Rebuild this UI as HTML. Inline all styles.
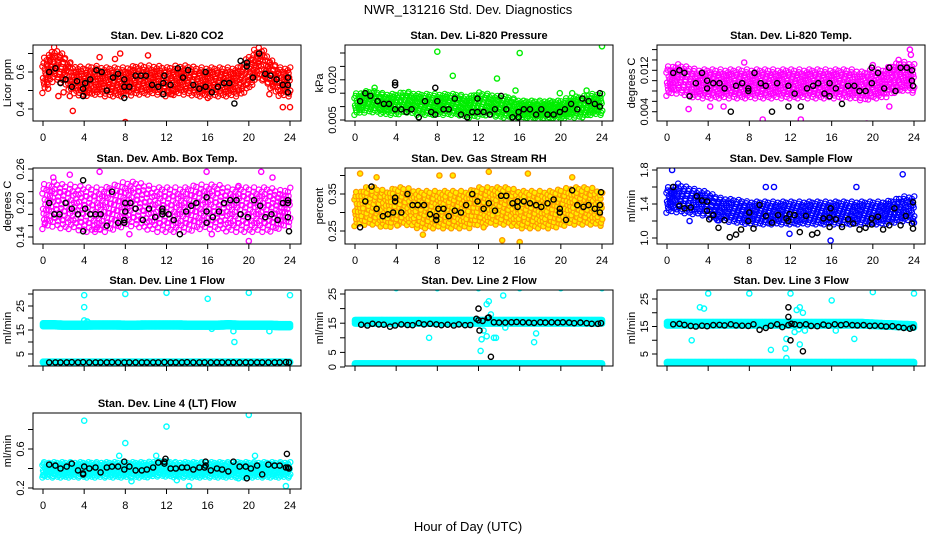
<!DOCTYPE html>
<html><head><meta charset="utf-8"><style>
html,body{margin:0;padding:0;background:#fff}
svg text{font-family:"Liberation Sans",sans-serif}
</style></head><body>
<svg id="chart" width="936" height="540" viewBox="0 0 936 540" xmlns="http://www.w3.org/2000/svg">
<text x="468" y="14" font-size="13" text-anchor="middle">NWR_131216  Std. Dev. Diagnostics</text>
<text x="468" y="531" font-size="13" text-anchor="middle">Hour of Day (UTC)</text>
</svg>
<script>
const xTicks=[0,4,8,12,16,20,24];
const HB=[0.6,1.2,1.7,2.3,2.8,3.4,3.9,4.5,5.1,5.6,6.2,6.7,7.3,7.9,8.4,9.0,9.6,10.1,10.7,11.2,11.8,12.4,12.9,13.5,14.0,14.6,15.2,15.7,16.3,16.9,17.4,18.0,18.5,19.1,19.7,20.2,20.8,21.3,21.9,22.5,23.0,23.6,23.9];

// Panel 1 CO2
const co2Mid=[0.58,0.65,0.62,0.56,0.55,0.56,0.55,0.55,0.55,0.56,0.56,0.56,0.55,0.56,0.56,0.55,0.55,0.55,0.55,0.55,0.6,0.66,0.6,0.55,0.55];
const co2Hw=[0.08,0.08,0.07,0.07,0.07,0.07,0.07,0.07,0.07,0.07,0.07,0.07,0.07,0.07,0.07,0.07,0.07,0.07,0.07,0.07,0.08,0.08,0.07,0.07,0.07];
const co2Black=[0.6,0.6,1.2,0.62,1.7,0.54,2.2,0.56,2.8,0.52,3.3,0.55,3.9,0.51,3.9,0.47,4.1,0.54,4.6,0.56,5.2,0.61,5.7,0.6,6.2,0.5,6.8,0.57,7.3,0.59,7.9,0.52,7.9,0.46,7.9,0.56,8.4,0.52,9,0.58,9.5,0.58,10,0.58,10.6,0.53,11.2,0.52,11.7,0.54,11.7,0.48,11.8,0.58,12.4,0.53,13.1,0.62,13.6,0.57,14.1,0.61,14.6,0.53,15.2,0.51,15.8,0.6,15.8,0.52,16.4,0.49,17,0.52,17.6,0.54,18.1,0.54,18.6,0.43,19.2,0.66,19.8,0.63,19.8,0.65,20.4,0.57,21,0.7,21.6,0.59,22.1,0.58,22.7,0.56,23.3,0.53,23.8,0.49,23.8,0.53,23.8,0.57];
const co2Out=[0.5,0.51,1.5,0.47,2,0.49,2.6,0.47,2.9,0.39,4.3,0.49,5.5,0.68,7.5,0.7,8,0.33,10.2,0.69,12.5,0.48,16,0.46,22,0.48,23.3,0.41,24,0.41,7,0.67];
// Panel 2 Pressure
const prMid=[0.011,0.012,0.012,0.011,0.011,0.012,0.011,0.011,0.011,0.011,0.011,0.010,0.011,0.011,0.010,0.010,0.009,0.009,0.009,0.009,0.009,0.010,0.010,0.011,0.011];
const prHw=[0.0035,0.0035,0.0035,0.0035,0.0035,0.0035,0.0035,0.0035,0.0035,0.0035,0.0035,0.0035,0.004,0.0035,0.0035,0.0035,0.003,0.003,0.003,0.003,0.003,0.0035,0.0035,0.0035,0.0035];
const prBlack=[0.5,0.012,1,0.015,1.5,0.014,2.2,0.012,2.8,0.011,3.3,0.011,3.9,0.009,3.9,0.018,3.9,0.019,4.5,0.009,5,0.008,5.5,0.009,6.2,0.006,6.8,0.012,7.4,0.008,7.8,0.007,7.8,0.017,8,0.012,8.6,0.009,9.1,0.009,9.7,0.013,10.3,0.007,10.9,0.006,11.4,0.008,11.9,0.008,11.9,0.013,12.5,0.008,13.1,0.007,13.6,0.009,14.2,0.014,14.7,0.009,15.3,0.006,15.9,0.006,15.9,0.008,16.4,0.009,17,0.009,17.6,0.007,18.1,0.009,18.7,0.007,19.3,0.007,19.9,0.008,20.4,0.009,21,0.011,21.6,0.009,22.1,0.013,22.7,0.012,23.3,0.011,23.8,0.010,23.8,0.015];
const prOut=[8,0.0305,9.5,0.0215,13.8,0.0205,16,0.030,24,0.0325,1.9,0.017,15.6,0.016,19.9,0.015,21.1,0.015,22.5,0.016,18.9,0.004,6.2,0.006];
// Panel 3 Temp
const tpMid=[0.010,0.0105,0.010,0.0095,0.0095,0.0095,0.0095,0.0095,0.0095,0.0095,0.0095,0.0095,0.0095,0.0095,0.0095,0.0095,0.0095,0.0095,0.0095,0.009,0.0095,0.0095,0.0105,0.011,0.0105];
const tpHw=[0.0025,0.0025,0.0025,0.0025,0.0025,0.0025,0.0025,0.0025,0.0025,0.0025,0.0025,0.0025,0.0025,0.0025,0.0025,0.0025,0.0025,0.0025,0.0025,0.0025,0.0025,0.0025,0.0025,0.0025,0.0025];
const tpBlack=[0.6,0.0115,1.2,0.012,1.7,0.0115,2.2,0.007,2.8,0.0095,3.4,0.0115,3.9,0.0085,3.9,0.01,4.5,0.0095,5.1,0.0095,5.6,0.0085,6.2,0.004,6.7,0.009,7.3,0.0095,7.9,0.008,7.9,0.0085,8.5,0.0115,9.1,0.0095,9.6,0.009,10.2,0.004,10.7,0.0095,11.8,0.009,11.8,0.005,12.4,0.0075,13,0.005,13.6,0.0085,14.2,0.009,14.7,0.0095,15.3,0.0075,15.8,0.0095,15.8,0.007,16.4,0.0085,17,0.0055,17.6,0.009,18.2,0.009,18.7,0.008,19.3,0.008,19.9,0.0095,19.9,0.0125,20.5,0.0115,21.1,0.0085,21.6,0.0125,22.2,0.008,22.7,0.0125,23.3,0.0125,23.8,0.012,23.8,0.01,23.9,0.009];
const tpOut=[2.1,0.0045,4.2,0.005,5.5,0.005,7.5,0.0135,9.3,0.0025,13,0.0025,19.4,0.0017,20,0.013,21.6,0.005,23.6,0.016,23.7,0.015,22.5,0.014];
// Panel 4 Amb
const abMid=[0.195,0.2,0.195,0.195,0.19,0.19,0.19,0.195,0.2,0.2,0.195,0.19,0.19,0.19,0.19,0.195,0.195,0.195,0.19,0.19,0.19,0.19,0.19,0.19,0.195];
const abHw=[0.035,0.035,0.035,0.035,0.035,0.035,0.035,0.035,0.035,0.035,0.035,0.035,0.035,0.035,0.035,0.035,0.035,0.035,0.035,0.035,0.035,0.035,0.035,0.03,0.03];
const abBlack=[0.6,0.2,1.1,0.18,1.6,0.18,2.2,0.2,2.8,0.19,3.4,0.18,3.9,0.15,3.9,0.24,4.1,0.19,4.6,0.18,5.1,0.18,5.6,0.18,6.2,0.16,6.7,0.22,7.3,0.165,7.9,0.165,7.9,0.17,8,0.2,8,0.185,8.5,0.2,9,0.19,9.7,0.17,10.3,0.19,10.9,0.175,11.6,0.18,11.6,0.185,11.6,0.19,12.2,0.18,12.7,0.17,13.3,0.145,13.9,0.185,14.4,0.195,14.9,0.2,15.9,0.21,15.9,0.185,15.9,0.165,16.5,0.175,17.1,0.185,17.6,0.2,18.2,0.205,18.8,0.205,19.2,0.18,19.9,0.175,20.5,0.205,21.1,0.195,21.6,0.175,22.2,0.18,22.8,0.17,23.3,0.2,23.8,0.205,23.8,0.2,23.8,0.175,23.9,0.15];
const abOut=[1,0.245,2.6,0.25,5.5,0.255,8.4,0.145,15.9,0.255,16.4,0.145,19,0.23,20,0.133,21.2,0.255,22.3,0.245,5.1,0.154,5.5,0.154,0.2,0.165];
// Panel 5 RH
const rhMid=[0.31,0.32,0.32,0.31,0.32,0.32,0.31,0.31,0.31,0.31,0.31,0.31,0.32,0.32,0.32,0.32,0.31,0.31,0.31,0.31,0.315,0.32,0.32,0.32,0.31];
const rhHw=[0.04,0.045,0.045,0.045,0.045,0.045,0.045,0.045,0.045,0.045,0.045,0.045,0.045,0.045,0.045,0.045,0.045,0.045,0.045,0.045,0.045,0.045,0.045,0.045,0.04];
const rhBlack=[0.5,0.26,1,0.33,1.6,0.37,2.1,0.31,2.7,0.29,3.2,0.295,3.7,0.30,3.9,0.33,3.9,0.34,4.5,0.30,5.1,0.35,5.6,0.32,6.1,0.32,6.7,0.32,7.3,0.295,7.9,0.29,7.9,0.28,8.1,0.31,8.6,0.31,9.1,0.29,9.7,0.305,10.3,0.30,10.8,0.32,11.4,0.35,11.9,0.33,12.5,0.31,13,0.325,13.6,0.305,14.2,0.345,14.7,0.345,15.3,0.325,15.8,0.33,15.8,0.315,16.4,0.33,17,0.325,17.6,0.32,18.1,0.315,18.7,0.325,19.3,0.335,19.9,0.31,19.9,0.30,20.5,0.28,21.1,0.36,21.6,0.32,22.2,0.315,22.7,0.32,23.3,0.31,23.8,0.32,23.8,0.30,23.9,0.355];
const rhOut=[0.5,0.405,2.1,0.395,4.1,0.265,6.6,0.24,8.2,0.4,9.5,0.4,13,0.41,14.3,0.225,16,0.22,16.8,0.405,21.1,0.395,12.5,0.26];
// Panel 6 Sample flow
const sfMid=[1.45,1.48,1.45,1.43,1.4,1.35,1.33,1.32,1.3,1.3,1.3,1.3,1.3,1.3,1.3,1.3,1.3,1.3,1.3,1.3,1.3,1.3,1.32,1.35,1.35];
const sfHw=[0.13,0.15,0.14,0.13,0.13,0.12,0.12,0.12,0.12,0.12,0.12,0.12,0.12,0.12,0.12,0.12,0.12,0.12,0.12,0.12,0.12,0.12,0.12,0.13,0.13];
const sfBlack=[0.6,1.6,1.2,1.38,1.7,1.35,2.3,1.36,2.9,1.49,3.4,1.44,3.9,1.43,3.9,1.32,4.1,1.22,4.5,1.27,5,1.12,5.6,1.21,6.1,1.01,6.7,1.04,7.2,1.1,7.9,1.2,8,1.3,8.4,1.11,9,1.39,9.6,1.26,10.2,1.18,10.8,1.27,11.6,1.23,11.8,1.2,11.9,1.28,12.4,1.27,12.9,1.07,13.5,1.26,14.1,1.04,14.6,1.06,15.2,1.23,15.8,1.13,15.8,1.24,15.9,1.35,16.4,1.22,17,1.13,17.6,1.22,18.1,1.17,18.7,1.1,19.3,1.12,19.9,1.16,19.9,1.23,20.5,1.25,21,1.1,21.6,1.15,22.1,1.35,22.7,1.15,23.2,1.26,23.8,1.17,23.9,1.11,23.9,1.42];
const sfOut=[0.5,1.8,2.2,1.2,9.6,1.6,10.4,1.6,15.9,0.97,22.9,1.75,24,1.18,4.9,1.21,11.9,1.05,18.4,1.6];
// Panel 7 Line 1
const l1Hi=[17.2,17.2,17.0,17.0,17.0,17.1,17.1,17.1,17.0,17.0,17.1,17.1,17.1,17.1,17.0,17.0,17.0,17.0,17.2,17.0,17.0,17.0,17.0,16.8,16.8];
const l1Lo=[1.6,1.6,1.6,1.6,1.6,1.6,1.6,1.6,1.6,1.6,1.6,1.6,1.6,1.6,1.6,1.6,1.6,1.6,1.6,1.6,1.6,1.6,1.6,1.6,1.6];
const l1Black=[1.5,1.5,1.5,1.5,1.6,1.5,1.6,1.5,1.5,1.5,1.5,1.6,1.5,1.5,1.5,1.5,1.5,1.5,1.5,1.5,1.6,1.5,1.5,1.5,1.6,1.5,1.5,1.5,1.5,1.5,1.5,1.5,1.5,1.5,1.5,1.5,1.5,1.5,1.5,1.5,1.5,1.6,1.5];
const l1Out=[4,24.5,4,29.5,8,30,12,30.5,16,28,20,30.5,24,29.5,18.5,14.5,18.6,10,22,14.5,16.4,15.5,4,19,4.3,18.5];
// Panel 8 Line 2
const l2Hi=[15.5,15.5,15.5,15.5,15.5,15.5,15.5,15.5,15.5,15.5,15.5,15.5,15.5,15.5,15.5,15.5,15.5,15.5,15.5,15.5,15.5,15.5,15.5,15.5,15.5];
const l2Lo=[1,1,1,1,1,1,1,1,1,1,1,1,1,1,1,1,1,1,1,1,1,1,1,1,1];
const l2Black=[14.5,14.2,14.8,14.6,14.5,13.8,14.2,14.6,14.4,14.3,15.0,14.6,14.8,14.6,14.3,14.5,14.2,14.6,14.3,14.4,16.5,15.8,16.8,15.3,15.2,15.2,15.3,15.4,15.3,15.2,15.1,15.3,15.2,15.3,15.2,15.3,15.2,15.0,15.2,15.0,14.8,14.8,15.0];
const l2Extra=[12,20,12,16,12.1,12.5,13,17,13.2,3.5];
const l2Out=[4,27,8,27,12,27,16,27,20,27,24,27,7.2,10,14.4,24.5,12.2,5.5,12.3,9.5,12.5,12.5,12.8,21.5,13,22.5,13.2,18,13.5,10,13.7,10,14.6,13.5,17.4,8.5,17.6,11.5,16.8,16,12.8,10.5];
// Panel 9 Line 3
const l3Hi=[16,16,16,16,16,16,16,16,16,16,16,16,16,16,16,16,16,16,16,16,15.8,15.6,15.5,15.3,15.2];
const l3Lo=[1.8,1.8,1.8,1.8,1.8,1.8,1.8,1.8,1.8,1.8,1.8,1.8,1.8,1.8,1.8,1.8,1.8,1.8,1.8,1.8,1.8,1.8,1.8,1.8,1.8];
const l3Black=[15.8,16.0,15.6,15.2,15.0,15.3,15.1,15.5,15.6,15.4,15.8,15.4,15.3,15.2,15.8,13.8,14.5,15.3,15.8,14.8,15.5,15.8,15.5,15.8,15.2,15.1,15.7,15.3,15.8,15.5,15.8,15.5,15.4,15.5,15.2,15.3,15.2,15.0,15.1,14.8,14.5,14.2,14.6];
const l3Extra=[11.8,22,11.8,18.5,12,10,13.2,6,12.1,16];
const l3Out=[4,27,8,27,12,27,16,24.5,20,27.5,24,27,3.2,22,3.6,21.5,2.4,10,11.5,7,11.6,3.5,11.6,10.5,12.6,21,12.9,22,13.2,20,12.9,8.5,12.4,13,12.8,14,16.4,13.5,18.2,10.5,10.1,6.5,13.4,13.5];
// Panel 10 Line 4
const l4Mid=[0.39,0.39,0.39,0.39,0.39,0.39,0.39,0.39,0.39,0.39,0.39,0.40,0.40,0.39,0.39,0.39,0.39,0.39,0.39,0.39,0.39,0.39,0.39,0.39,0.39];
const l4Hw=[0.07,0.07,0.07,0.07,0.07,0.07,0.07,0.07,0.07,0.07,0.07,0.07,0.07,0.07,0.07,0.07,0.07,0.07,0.07,0.07,0.07,0.07,0.07,0.07,0.07];
const l4Black=[0.44,0.43,0.40,0.42,0.45,0.38,0.35,0.40,0.41,0.36,0.41,0.42,0.42,0.39,0.42,0.38,0.38,0.39,0.41,0.46,0.45,0.40,0.40,0.41,0.41,0.39,0.41,0.41,0.38,0.40,0.39,0.37,0.47,0.42,0.42,0.40,0.43,0.34,0.44,0.43,0.43,0.41,0.40];
const l4Extra=[3.9,0.34,4,0.42,7.9,0.47,11.9,0.50,11.8,0.47,15.8,0.47,15.8,0.43,19.8,0.30,23.7,0.55,23.8,0.41];
const l4Out=[4,0.89,8,0.66,12,0.83,20,0.95,14.2,0.22,23.6,0.22,7.4,0.53,11,0.53,20.6,0.53,19,0.3,8.6,0.27,13,0.28,0,0.33];

const NS='http://www.w3.org/2000/svg';
const svg=document.getElementById('chart');
function mk(tag,attrs,parent){const e=document.createElementNS(NS,tag);for(const k in attrs)e.setAttribute(k,attrs[k]);(parent||svg).appendChild(e);return e;}

function panel(o){
  const g=mk('g',{});
  
  
  const L=33+o.col*312, T=[45,168,290,413][o.row], W=268, H=76;
  const X=h=>L+10+h*(247/24);
  const Y=v=>o.y0+(v-o.v0)*(o.y1-o.y0)/(o.v1-o.v0)+T;
  const clip='clip'+o.name;
  const cp=mk('clipPath',{id:clip},g);mk('rect',{x:L,y:T,width:W,height:H},cp);
  const pts=mk('g',{'clip-path':'url(#'+clip+')'},g);
  
  
  const dot=(x,y,c,fill,sw)=>mk('circle',{cx:X(x).toFixed(1),cy:Y(y).toFixed(1),r:2.6,fill:fill||'none',stroke:c,'stroke-width':sw||1.4},pts);
  const interp=(arr,h)=>{const i=Math.min(23,Math.floor(h));const t=h-i;return arr[i]*(1-t)+arr[i+1]*t;};
  (o.clouds||[]).forEach(cl=>{
    let i=0;
    if(cl.band){
      for(let h=0;h<=24.001;h+=0.08,i++){
        const m=interp(cl.mid,h), w=interp(cl.hw,h);
        [-1,0,1].forEach(f=>dot(h,m+w*f,o.color,o.fill,1.4));
      }
      return;
    }
    const offs=[-0.95,-0.5,-0.05,0.4,0.85];
    for(let h=0;h<=24.001;h+=0.17,i++){
      const m=interp(cl.mid,h), w=interp(cl.hw,h);
      offs.forEach((f,k)=>{
        const ff=f+(((i*7+k*3)%5)-2)*0.11;
        const hx=h+(((i+k*2)%3)-1)*0.06;
        dot(hx,m+w*ff,o.color,o.fill,1.2);
      });
    }
  });
  for(let i=0;i<o.out.length;i+=2) dot(o.out[i],o.out[i+1],o.color,o.fill);
  for(let i=0;i<o.black.length;i+=2) dot(o.black[i],o.black[i+1],'#000');
  mk('rect',{x:L,y:T,width:W,height:H,fill:'none',stroke:'#000','stroke-width':1},g);
  xTicks.forEach(t=>{mk('line',{x1:X(t),x2:X(t),y1:T+H,y2:T+H+5,stroke:'#000'},g);
    if(o.row!==2){const tx=mk('text',{x:X(t),y:T+H+20,'font-size':11,'text-anchor':'middle'},g);tx.textContent=t;}});
  o.yt.forEach(t=>{const y=Y(t);mk('line',{x1:L-5,x2:L,y1:y,y2:y,stroke:'#000'},g);});
  o.yl.forEach(t=>{const y=Y(t[0]);const tx=mk('text',{x:L-9,y:y,'font-size':11,'text-anchor':'middle',transform:'rotate(-90 '+(L-9)+' '+y+')'},g);tx.textContent=t[1];});
  const yl=mk('text',{x:L-22,y:T+H/2,'font-size':11,'text-anchor':'middle',transform:'rotate(-90 '+(L-22)+' '+(T+H/2)+')'},g);yl.textContent=o.ylab;
  const ti=mk('text',{x:L+W/2,y:T-6,'font-size':11,'font-weight':'bold','text-anchor':'middle'},g);ti.textContent=o.title;
}
const pairs=(xs,ys)=>{const r=[];xs.forEach((x,i)=>{r.push(x,ys[i]);});return r;};
const flat=v=>v.map(()=>0.6);

panel({name:'co2-panel',title:'Stan. Dev. Li-820 CO2',ylab:'Licor ppm',col:0,row:0,v0:0.4,y0:64,v1:0.6,y1:27,yt:[0.4,0.5,0.6,0.7],yl:[[0.4,'0.4'],[0.6,'0.6']],color:'#ff0000',clouds:[{mid:co2Mid,hw:co2Hw}],black:co2Black,out:co2Out});
panel({name:'pressure-panel',title:'Stan. Dev. Li-820 Pressure',ylab:'kPa',col:1,row:0,v0:0.005,y0:75,v1:0.020,y1:34.8,yt:[0.005,0.010,0.015,0.020,0.025,0.030],yl:[[0.005,'0.005'],[0.020,'0.020']],color:'#00ee00',clouds:[{mid:prMid,hw:prHw}],black:prBlack,out:prOut});
panel({name:'temp-panel',title:'Stan. Dev. Li-820 Temp.',ylab:'degrees C',col:2,row:0,v0:0.004,y0:66.7,v1:0.012,y1:25.3,yt:[0.004,0.006,0.008,0.010,0.012,0.014,0.016],yl:[[0.004,'0.004'],[0.012,'0.012']],color:'#ff00ff',clouds:[{mid:tpMid,hw:tpHw}],black:tpBlack,out:tpOut});
panel({name:'ambbox-panel',title:'Stan. Dev. Amb. Box Temp.',ylab:'degrees C',col:0,row:1,v0:0.14,y0:69,v1:0.26,y1:1,yt:[0.14,0.16,0.18,0.20,0.22,0.24,0.26],yl:[[0.14,'0.14'],[0.20,'0.20'],[0.26,'0.26']],color:'#ff00ff',clouds:[{mid:abMid,hw:abHw}],black:abBlack,out:abOut});
panel({name:'rh-panel',title:'Stan. Dev. Gas Stream RH',ylab:'percent',col:1,row:1,v0:0.25,y0:63,v1:0.35,y1:26,yt:[0.25,0.30,0.35,0.40],yl:[[0.25,'0.25'],[0.35,'0.35']],color:'#ff9a00',fill:'#ffee00',clouds:[{mid:rhMid,hw:rhHw}],black:rhBlack,out:rhOut});
panel({name:'sampleflow-panel',title:'Stan. Dev. Sample Flow',ylab:'ml/min',col:2,row:1,v0:1.0,y0:70,v1:1.8,y1:2,yt:[1.0,1.2,1.4,1.6,1.8],yl:[[1.0,'1.0'],[1.4,'1.4'],[1.8,'1.8']],color:'#0000ff',clouds:[{mid:sfMid,hw:sfHw}],black:sfBlack,out:sfOut});
panel({name:'line1-panel',title:'Stan. Dev. Line 1 Flow',ylab:'ml/min',col:0,row:2,v0:5,y0:64,v1:25,y1:16,yt:[0,5,10,15,20,25,30],yl:[[5,'5'],[15,'15'],[25,'25']],color:'#00ffff',clouds:[{mid:l1Hi,hw:flat(l1Hi),band:true},{mid:l1Lo,hw:flat(l1Lo).map(v=>v*0.3),band:true}],black:pairs(HB,l1Black),out:l1Out});
panel({name:'line2-panel',title:'Stan. Dev. Line 2 Flow',ylab:'ml/min',col:1,row:2,v0:0,y0:77,v1:25,y1:4,yt:[0,5,10,15,20,25],yl:[[0,'0'],[5,'5'],[15,'15'],[25,'25']],color:'#00ffff',clouds:[{mid:l2Hi,hw:flat(l2Hi),band:true},{mid:l2Lo,hw:flat(l2Lo).map(v=>v*0.4),band:true}],black:pairs(HB,l2Black).concat(l2Extra),out:l2Out});
panel({name:'line3-panel',title:'Stan. Dev. Line 3 Flow',ylab:'ml/min',col:2,row:2,v0:5,y0:64,v1:25,y1:9,yt:[5,10,15,20,25],yl:[[5,'5'],[15,'15'],[25,'25']],color:'#00ffff',clouds:[{mid:l3Hi,hw:flat(l3Hi),band:true},{mid:l3Lo,hw:flat(l3Lo).map(v=>v*0.4),band:true}],black:pairs(HB,l3Black).concat(l3Extra),out:l3Out});
panel({name:'line4-panel',title:'Stan. Dev. Line 4 (LT) Flow',ylab:'ml/min',col:0,row:3,v0:0.2,y0:75,v1:0.6,y1:36,yt:[0.2,0.4,0.6,0.8],yl:[[0.2,'0.2'],[0.6,'0.6']],color:'#00ffff',clouds:[{mid:l4Mid,hw:l4Hw}],black:pairs(HB,l4Black).concat(l4Extra),out:l4Out});
</script>
</body></html>
